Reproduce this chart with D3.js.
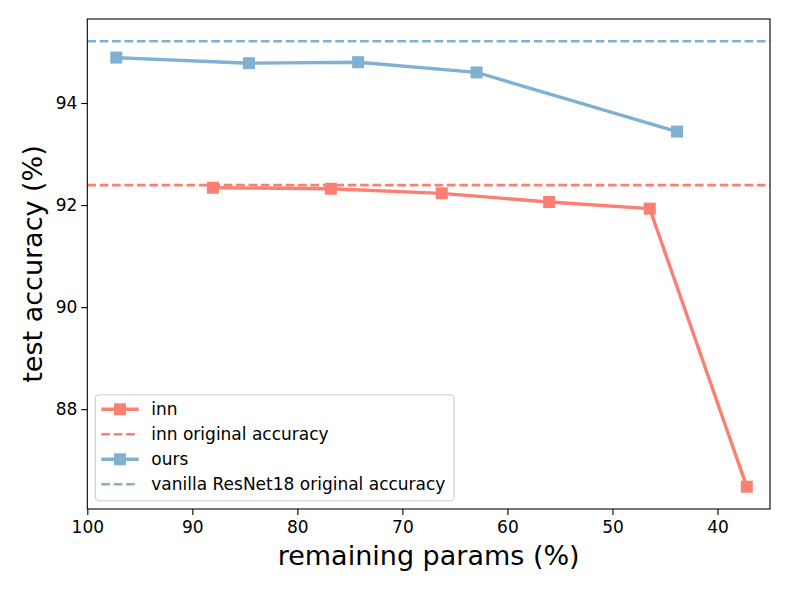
<!DOCTYPE html>
<html>
<head>
<meta charset="utf-8">
<script src="https://cdn.jsdelivr.net/npm/d3@7"></script>
<style>
  html, body { margin: 0; padding: 0; background: #fff; }
  svg { display: block; font-family: "DejaVu Sans", sans-serif; }
</style>
</head>
<body>
<svg id="chart" width="789" height="592"></svg>
<script>
// ---- data ----
const innParams = [88.04, 76.81, 66.25, 56.03, 46.45, 37.21];
const innAcc    = [92.34, 92.32, 92.23, 92.06, 91.93, 86.48];
const oursParams = [97.24, 84.61, 74.21, 62.94, 43.85];
const oursAcc    = [94.89, 94.78, 94.80, 94.60, 93.44];
const innOriginal = 92.39;
const vanillaOriginal = 95.21;
const xDomain = [100, 35];
const xTicks = [100, 90, 80, 70, 60, 50, 40];
const yTicks = [88, 90, 92, 94];
const legendLabels = ["inn", "inn original accuracy", "ours", "vanilla ResNet18 original accuracy"];

const RED = "#fb8072", BLUE = "#80b1d3";

const svg = d3.select("#chart");
const L = 87.3, R = 770, T = 19, B = 509;

// y domain with matplotlib-like 5% margins
const allY = innAcc.concat(oursAcc, [innOriginal, vanillaOriginal]);
const [ymin, ymax] = d3.extent(allY);
const pad = (ymax - ymin) * 0.05;

const x = d3.scaleLinear().domain(xDomain).range([L, R]);
const y = d3.scaleLinear().domain([ymin - pad, ymax + pad]).range([B, T]);

const plot = svg.append("g");
const clipId = "clip";
svg.append("defs").append("clipPath").attr("id", clipId)
  .append("rect").attr("x", L).attr("y", T).attr("width", R - L).attr("height", B - T);

const g = plot.append("g").attr("clip-path", `url(#${clipId})`);

// horizontal reference lines
function hline(v, color) {
  g.append("line")
    .attr("x1", L).attr("x2", R)
    .attr("y1", y(v)).attr("y2", y(v))
    .attr("stroke", color).attr("stroke-width", 2.6)
    .attr("stroke-dasharray", "8.7,3.7");
}

const line = d3.line().x(d => x(d[0])).y(d => y(d[1]));
function series(xs, ys, color) {
  const pts = xs.map((v, i) => [v, ys[i]]);
  g.append("path").datum(pts)
    .attr("d", line).attr("fill", "none")
    .attr("stroke", color).attr("stroke-width", 3.4)
    .attr("stroke-linejoin", "round").attr("stroke-linecap", "square");
  g.selectAll(null).data(pts).enter().append("rect")
    .attr("x", d => x(d[0]) - 6).attr("y", d => y(d[1]) - 6)
    .attr("width", 12).attr("height", 12)
    .attr("fill", color);
}

series(innParams, innAcc, RED);
hline(innOriginal, RED);
series(oursParams, oursAcc, BLUE);
hline(vanillaOriginal, BLUE);

// axes
const xAxis = d3.axisBottom(x).tickValues(xTicks).tickSize(6).tickPadding(6).tickSizeOuter(0);
const yAxis = d3.axisLeft(y).tickValues(yTicks).tickSize(6).tickPadding(4).tickSizeOuter(0);

const gx = svg.append("g").attr("transform", `translate(0,${B})`).call(xAxis);
const gy = svg.append("g").attr("transform", `translate(${L},0)`).call(yAxis);
[gx, gy].forEach(a => {
  a.select(".domain").remove();
  a.selectAll(".tick line").attr("stroke", "#000").attr("stroke-width", 1.1);
  a.selectAll(".tick text").attr("fill", "#000").style("font-size", "17px")
    .style("font-family", "'DejaVu Sans', sans-serif");
});

// frame
svg.append("rect").attr("x", L).attr("y", T).attr("width", R - L).attr("height", B - T)
  .attr("fill", "none").attr("stroke", "#000").attr("stroke-width", 1.1);

// axis labels
svg.append("text").attr("x", (L + R) / 2).attr("y", 565)
  .attr("text-anchor", "middle").style("font-size", "27px").attr("fill", "#000")
  .text("remaining params (%)");
svg.append("text")
  .attr("transform", `translate(42,${(T + B) / 2}) rotate(-90)`)
  .attr("text-anchor", "middle").style("font-size", "27px").attr("fill", "#000")
  .text("test accuracy (%)");

// legend
const lg = svg.append("g");
lg.append("rect").attr("x", 95.3).attr("y", 394.7).attr("width", 358.7).attr("height", 106)
  .attr("rx", 4).attr("fill", "#fff").attr("fill-opacity", 0.8)
  .attr("stroke", "#cccccc").attr("stroke-width", 1.1);
const rowsY = [409.3, 434.3, 459.3, 484.3];
const styles = [
  {color: RED, dashed: false}, {color: RED, dashed: true},
  {color: BLUE, dashed: false}, {color: BLUE, dashed: true}
];
legendLabels.forEach((lab, i) => {
  const cy = rowsY[i], s = styles[i];
  const ln = lg.append("line").attr("x1", 101.3).attr("x2", 138.7)
    .attr("y1", cy).attr("y2", cy).attr("stroke", s.color);
  if (s.dashed) ln.attr("stroke-width", 2.6).attr("stroke-dasharray", "8.7,3.7");
  else {
    ln.attr("stroke-width", 3.4);
    lg.append("rect").attr("x", 120 - 6).attr("y", cy - 6).attr("width", 12).attr("height", 12)
      .attr("fill", s.color);
  }
  lg.append("text").attr("x", 151.3).attr("y", cy + 6)
    .style("font-size", "17px").attr("fill", "#000").text(lab);
});
</script>
</body>
</html>
